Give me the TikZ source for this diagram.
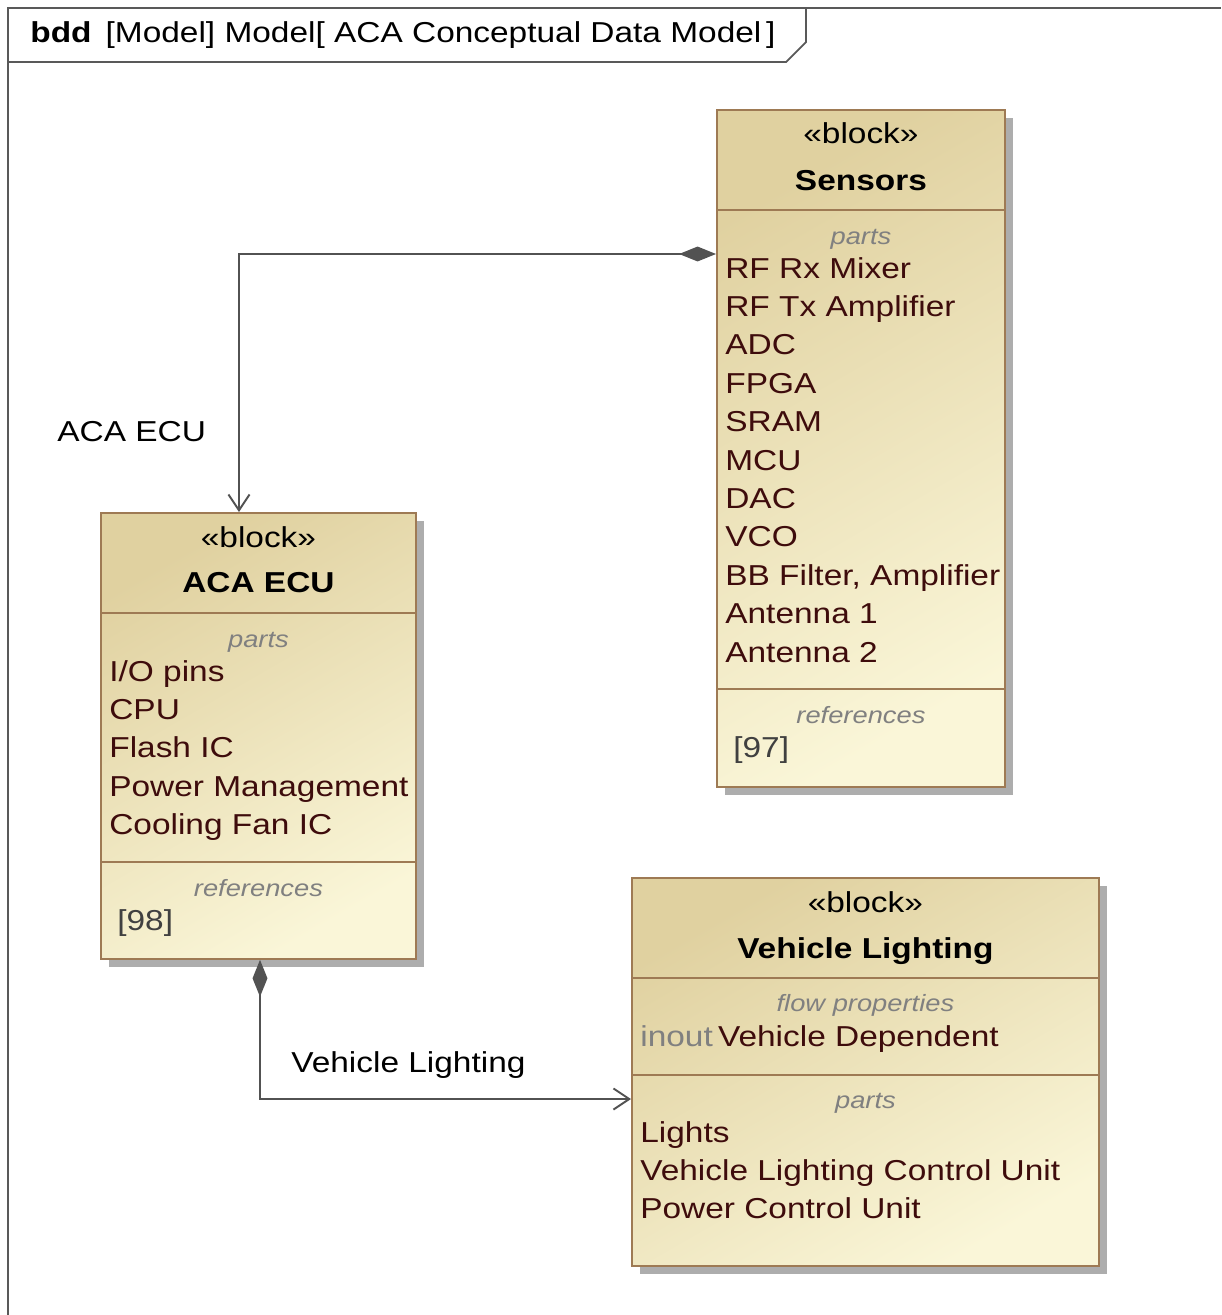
\documentclass[tikz,border=0pt]{standalone}
\usepackage{fontspec}
\setmainfont{Liberation Sans}[FakeStretch=1.16]
\usetikzlibrary{arrows.meta,positioning,shadows}

\definecolor{blockedge}{RGB}{158,122,84}
\definecolor{blocktop}{RGB}{224,209,160}
\definecolor{blockbot}{RGB}{250,246,216}
\definecolor{itemtext}{RGB}{62,12,12}
\definecolor{captext}{RGB}{128,128,128}
\definecolor{reftext}{RGB}{64,64,64}
\definecolor{linkgray}{RGB}{82,82,82}

\begin{document}
\begin{tikzpicture}[
    x=0.02cm, y=-0.02cm,
    block/.style={draw=blockedge, line width=1.1pt, anchor=north west, inner sep=0pt,
      top color=blocktop, bottom color=blockbot, shading angle=30,
      drop shadow={shadow xshift=0.16cm, shadow yshift=-0.16cm, fill=black!32, opacity=1}},
    sep/.style={draw=blockedge, line width=1.1pt},
    stereo/.style={anchor=base, inner sep=0pt, font=\fontsize{16.4}{19}\selectfont},
    blockname/.style={anchor=base, inner sep=0pt, font=\fontsize{16.4}{19}\selectfont\bfseries},
    compcap/.style={anchor=base, inner sep=0pt, text=captext, font=\fontsize{13.4}{16}\selectfont\itshape},
    item/.style={anchor=base west, inner sep=0pt, text=itemtext, font=\fontsize{16.4}{19}\selectfont},
    ref/.style={anchor=base west, inner sep=0pt, text=reftext, font=\fontsize{16.4}{19}\selectfont},
    lbl/.style={anchor=base west, inner sep=0pt, font=\fontsize{16.4}{19}\selectfont},
    partof/.style={draw=linkgray, line width=1.1pt,
      {Diamond[length=21pt,width=8.5pt]}-{Straight Barb[length=9pt,width=12pt]}}
  ]
  \useasboundingbox (0,0) rectangle (1221,1315);
  \draw[line width=1pt, draw=black!65] (8,1315) -- (8,8) -- (1221,8);
  \draw[line width=1pt, draw=black!65] (8,62) -- (786,62) -- (806,42) -- (806,8);
  \node[lbl] (frame-title) at (30,42) {\textbf{bdd}\hspace{8pt}[Model] Model[ ACA Conceptual Data Model\,]};

  \node[block, minimum width=5.76cm, minimum height=13.54cm] (sensors) at (716,109) {};
  \draw[sep] (sensors.west |- 0,210) -- (sensors.east |- 0,210);
  \draw[sep] (sensors.west |- 0,689) -- (sensors.east |- 0,689);
  \node[stereo] (sensors-st) at (sensors.north |- 0,143) {«block»};
  \node[blockname] (sensors-name) at (sensors.north |- 0,190) {Sensors};
  \node[compcap] (sensors-parts) at (sensors.north |- 0,244) {parts};
  \foreach \t [count=\i from 0] in {RF Rx Mixer, RF Tx Amplifier, ADC, FPGA, SRAM, MCU, DAC, VCO,
      {BB Filter, Amplifier}, Antenna 1, Antenna 2}
    \node[item] (sensors-p\i) at (725,278+38.4*\i) {\t};
  \node[compcap] (sensors-refs) at (sensors.north |- 0,723) {references};
  \node[ref] (sensors-r) at (733,757) {[97]};

  \node[block, minimum width=6.3cm, minimum height=8.92cm] (ecu) at (100,512) {};
  \draw[sep] (ecu.west |- 0,613) -- (ecu.east |- 0,613);
  \draw[sep] (ecu.west |- 0,862) -- (ecu.east |- 0,862);
  \node[stereo] (ecu-st) at (ecu.north |- 0,547) {«block»};
  \node[blockname] (ecu-name) at (ecu.north |- 0,592) {ACA ECU};
  \node[compcap] (ecu-parts) at (ecu.north |- 0,647) {parts};
  \foreach \t [count=\i from 0] in {I/O pins, CPU, Flash IC, Power Management, Cooling Fan IC}
    \node[item] (ecu-p\i) at (109,681+38.4*\i) {\t};
  \node[compcap] (ecu-refs) at (ecu.north |- 0,896) {references};
  \node[ref] (ecu-r) at (117,930) {[98]};

  \node[block, minimum width=9.34cm, minimum height=7.76cm] (vl) at (631,877) {};
  \draw[sep] (vl.west |- 0,978) -- (vl.east |- 0,978);
  \draw[sep] (vl.west |- 0,1075) -- (vl.east |- 0,1075);
  \node[stereo] (vl-st) at (vl.north |- 0,912) {«block»};
  \node[blockname] (vl-name) at (vl.north |- 0,958) {Vehicle Lighting};
  \node[compcap] (vl-flow) at (vl.north |- 0,1011) {flow properties};
  \node[item] (vl-f0) at (640,1046) {{\color{captext}inout}\hspace{3pt}Vehicle Dependent};
  \node[compcap] (vl-parts) at (vl.north |- 0,1108) {parts};
  \foreach \t [count=\i from 0] in {Lights, Vehicle Lighting Control Unit, Power Control Unit}
    \node[item] (vl-p\i) at (640,1142+38.4*\i) {\t};

  \draw[partof] (sensors.west |- 0,254) -| (ecu.north -| 239,0);
  \node[lbl] (lbl-ecu) at (57,441) {ACA ECU};
  \draw[partof] (ecu.south -| 260,0) |- (vl.west |- 0,1099);
  \node[lbl] (lbl-vl) at (291,1072) {Vehicle Lighting};
\end{tikzpicture}
\end{document}
